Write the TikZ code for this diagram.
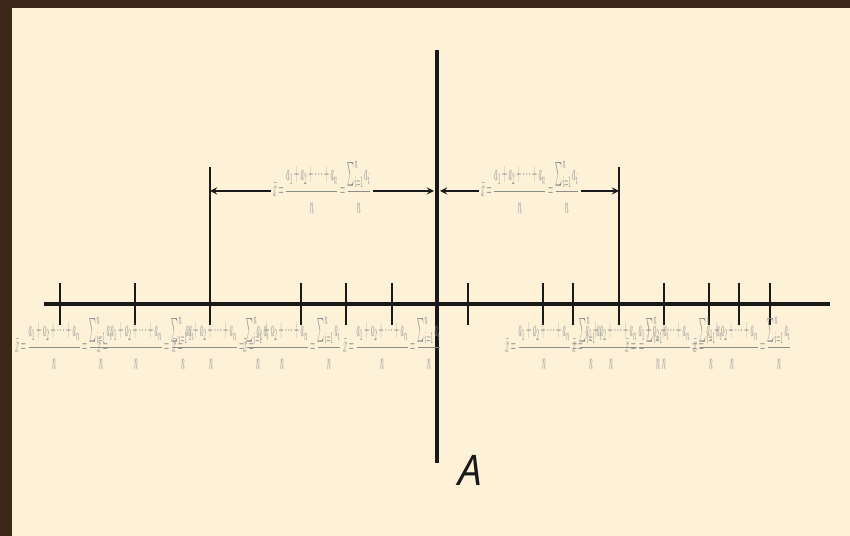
\documentclass[tikz,border=0pt]{standalone}
\usepackage{amsmath}
\usepackage{fontspec}
\newfontfamily\labelfont{Open Sans}
\usetikzlibrary{positioning, calc}

\definecolor{frame}{HTML}{3B2617}
\definecolor{paper}{HTML}{FDF2D8}
\definecolor{formula}{HTML}{8C8C8C}

\newcommand{\meanfrac}{\scalebox{0.37}[1.35]{$\displaystyle
    \bar{x}=\frac{a_1+a_2+\cdots+a_n}{n}=\frac{\sum\nolimits_{i=1}^{n}a_i}{n}$}}

\begin{document}
\begin{tikzpicture}[
    >=stealth,
    axisline/.style={line width=2.8pt, black!90},
    tick/.style={line width=1.2pt, black!90},
    dimline/.style={<->, line width=0.8pt, black!90},
    mean/.style={text=formula, inner sep=0pt, anchor=base, yshift=-3.4pt},
    meanrow/.style={mean, anchor=base west},
    coverpaper/.style={fill=paper, inner xsep=1pt}
]

% background
\fill[frame] (0,0) rectangle (17,10.72);
\fill[paper] (0.24,0) rectangle (17,10.56);
\useasboundingbox (0,0) rectangle (17,10.72);

% axes
\coordinate (axL) at (0.88,4.64);
\coordinate (axR) at (16.6,4.64);
\coordinate (vTop) at (8.74,9.72);
\coordinate (vBot) at (8.74,1.46);
\coordinate (O) at (8.74,4.64);

\draw[axisline] (axL) -- (axR);
\draw[axisline] (vTop) -- (vBot);

\node[font=\labelfont\itshape\fontsize{24}{28}\selectfont, text=black!90]
    (labelA) at (9.4,1.32) {A};

% ticks
\foreach \x in {1.2, 2.7, 6.02, 6.92, 7.84, 9.36, 10.86, 11.46, 13.28, 14.18, 14.78, 15.4} {
    \draw[tick] (\x,5.06) -- (\x,4.22);
}

% tall ticks for the dimension lines
\coordinate (tallL) at (4.2,7.38);
\coordinate (tallR) at (12.38,7.38);
\draw[tick] (tallL) -- (4.2,4.22);
\draw[tick] (tallR) -- (12.38,4.22);

% dimension arrows
\coordinate (dimL) at (4.2,6.9);
\coordinate (dimR) at (12.38,6.9);
\coordinate (dimM) at (8.74,6.9);

\draw[dimline, shorten >=0.06cm] (dimL) -- (dimM);
\draw[dimline, shorten <=0.06cm] (dimM) -- (dimR);

\node[mean, coverpaper] (meanL) at (6.44,6.9) {\meanfrac};
\node[mean, coverpaper] (meanR) at (10.6,6.9) {\meanfrac};

% row of formulas under the axis
\foreach \x [count=\i] in {0.3, 1.94, 3.44, 4.86, 6.86, 10.1, 11.44, 12.5, 13.86} {
    \node[meanrow] (row\i) at (\x,3.78) {\meanfrac};
}
\end{tikzpicture}
\end{document}
